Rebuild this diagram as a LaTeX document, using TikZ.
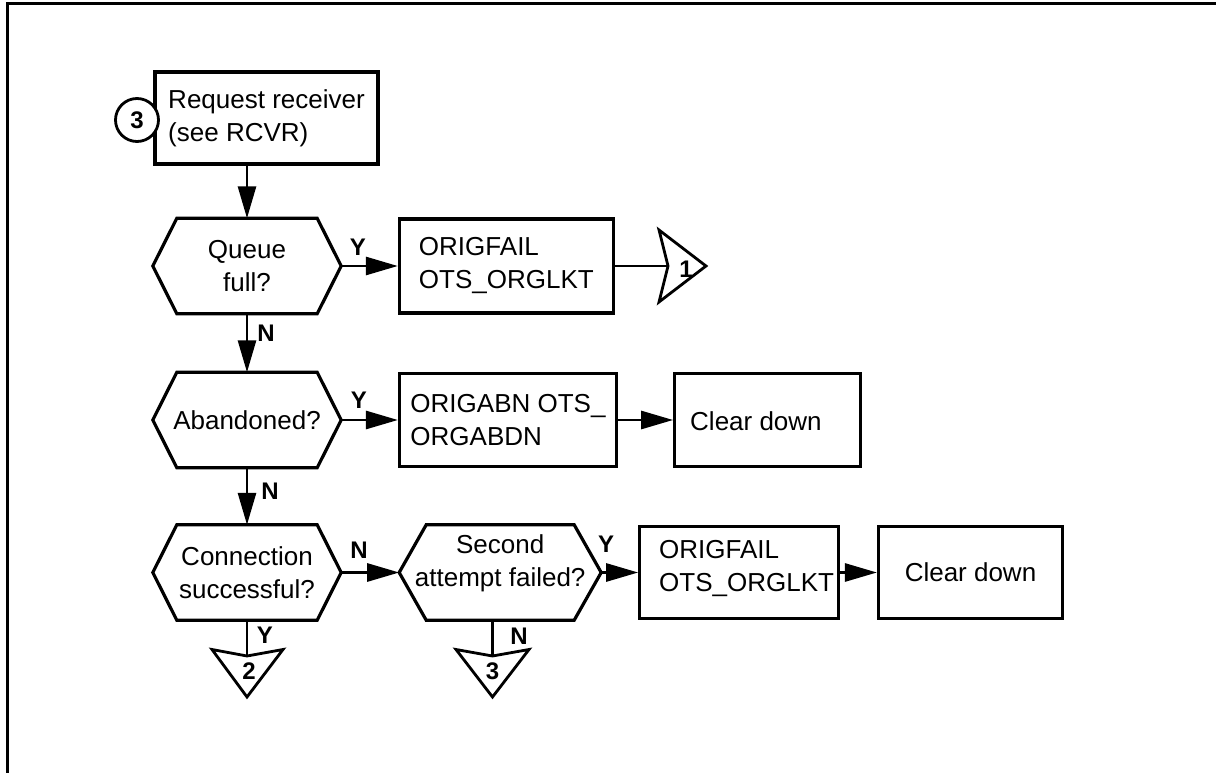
\documentclass[tikz,border=0pt]{standalone}
\usepackage{fontspec}
\setmainfont{Liberation Sans}
\usetikzlibrary{arrows.meta}
\newcommand\hexdraw[2]{\draw[hexline] (#1.west) -- ([xshift=#2]#1.north west) -- ([xshift=-#2]#1.north east) -- (#1.east) -- ([xshift=-#2]#1.south east) -- ([xshift=#2]#1.south west) -- cycle;}
\begin{document}
\begin{tikzpicture}[x=1pt,y=-1pt,
  txt/.style={font=\fontsize{26}{33}\selectfont, align=center, inner sep=0pt},
  lbl/.style={font=\fontsize{24}{26}\selectfont\bfseries, inner sep=0pt},
  box/.style={draw, line width=3.2pt, txt, align=left},
  hexn/.style={txt},
  hexline/.style={line width=3.2pt, line join=miter},
  arr/.style={line width=2.8pt, -{Triangle[length=32pt,width=18pt]}},
  conn/.style={line width=2.4pt},
  tri/.style={line width=2.8pt, line join=miter}]
\useasboundingbox (0,0) rectangle (1216,773);
% frame
\draw[line width=3pt] (1216,4) -- (7,4) -- (7,773);
% start box and connector circle
\node[box, minimum width=223pt, minimum height=92pt] (b1) at (266.5,118) {Request receiver\\(see RCVR)};
\node[circle, draw, fill=white, line width=2.8pt, minimum size=43pt, lbl] (c3) at (137,120) {3};
% row 1
\node[hexn, minimum width=188pt, minimum height=95pt] (h1) at (247,266) {Queue\\full?};
\hexdraw{h1}{24pt}
\node[box, minimum width=214pt, minimum height=94pt] (b2) at (506.4,266) {ORIGFAIL\\OTS\_ORGLKT};
\coordinate (t1) at (668,266);
\draw[tri] (659,230) -- (t1) -- (659,302) -- (706,266) -- cycle;
\node[lbl] (t1l) at (686,269) {1};
% row 2
\node[hexn, minimum width=188pt, minimum height=95pt] (h2) at (247,420) {Abandoned?};
\hexdraw{h2}{24pt}
\node[box, minimum width=217pt, minimum height=93pt] (b3) at (508,420) {ORIGABN OTS\_\\ORGABDN};
\node[box, minimum width=186pt, minimum height=93pt] (cd1) at (767.7,420) {};
\node[txt, anchor=west] (cd1t) at (690,421) {Clear down};
% row 3
\node[hexn, minimum width=188pt, minimum height=95pt] (h3) at (247,572.5) {Connection\\successful?};
\hexdraw{h3}{24pt}
\node[hexn, minimum width=201.6pt, minimum height=95pt] (h4) at (500.2,572.5) {};
\hexdraw{h4}{27pt}
\node[txt] (h4t) at (500.2,563) {Second\\attempt failed?};
\node[box, minimum width=198.5pt, minimum height=92pt] (b4) at (739,572.5) {};
\node[txt, anchor=west, align=left] (b4t) at (659,569) {ORIGFAIL\\OTS\_ORGLKT};
\node[box, align=center, minimum width=184pt, minimum height=92pt] (cd2) at (970.5,572.5) {Clear down};
% off-page connectors
\coordinate (t2) at (247,656);
\draw[tri] (212,649.5) -- (t2) -- (283,649.5) -- (247,697) -- cycle;
\node[lbl] (t2l) at (249,671) {2};
\coordinate (t3) at (492.5,656);
\draw[tri] (456,649.5) -- (t3) -- (529,649.5) -- (492.5,697) -- cycle;
\node[lbl] (t3l) at (492.5,671) {3};
% connectors
\draw[arr] (b1.south -| h1.north) -- (h1.north);
\draw[arr] (h1.east) -- (b2.west);
\draw[conn] (b2.east) -- (t1);
\draw[arr] (h1.south) -- (h2.north);
\draw[arr] (h2.east) -- (b3.west);
\draw[arr] (b3.east) -- (cd1.west);
\draw[arr] (h2.south) -- (h3.north);
\draw[arr] (h3.east) -- (h4.west);
\draw[arr] (h4.east) -- (b4.west);
\draw[arr] (b4.east) -- (cd2.west);
\draw[conn] (h3.south) -- (t2);
\draw[conn] (h4.south -| t3) -- (t3);
% branch labels
\node[lbl] (y1) at (358,247) {Y};
\node[lbl] (n1) at (266,333) {N};
\node[lbl] (y2) at (359,400) {Y};
\node[lbl] (n2) at (270,491) {N};
\node[lbl] (n3) at (359,550) {N};
\node[lbl] (y3) at (606,544) {Y};
\node[lbl] (y4) at (265,635) {Y};
\node[lbl] (n4) at (519,636) {N};
\end{tikzpicture}
\end{document}
